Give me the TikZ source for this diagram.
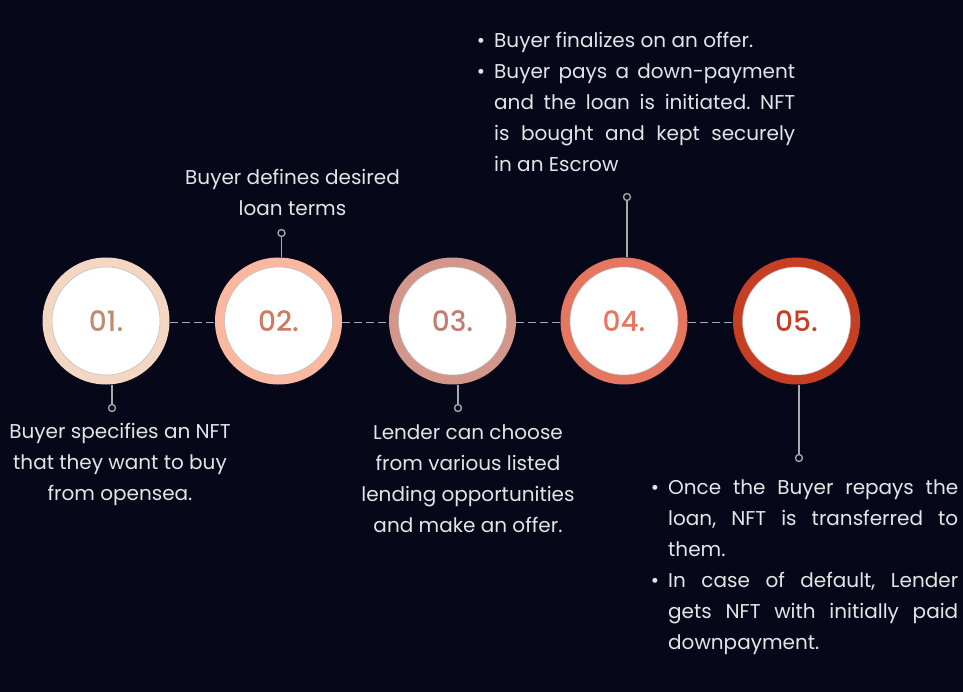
\documentclass[tikz,border=0pt]{standalone}
\usepackage{fontspec}
\setmainfont{Poppins}
\newfontfamily\numfont{Poppins}[UprightFont=* Medium]
\usetikzlibrary{positioning}
\setlength{\parindent}{0pt}
\frenchspacing

\definecolor{night}{HTML}{06081A}
\definecolor{paper}{HTML}{E4E4E6}
\definecolor{wire}{HTML}{A9A9AD}
\definecolor{ringA}{HTML}{F4D7C3}
\definecolor{ringB}{HTML}{FBB8A1}
\definecolor{ringC}{HTML}{D3968A}
\definecolor{ringD}{HTML}{E5765F}
\definecolor{ringE}{HTML}{C63F22}
\definecolor{numA}{HTML}{C08A70}
\definecolor{numB}{HTML}{CC7A60}
\definecolor{numC}{HTML}{C17C6F}

\newcommand{\dotitem}{\leavevmode\llap{\textbullet\hspace{9pt}}}

\begin{document}
\begin{tikzpicture}[x=1pt, y=-1pt,
    ring/.style={circle, inner sep=0pt, minimum size=127pt},
    face/.style={circle, fill=white, draw=gray!55, line width=0.5pt, inner sep=0pt,
                 minimum size=108pt, font=\numfont\fontsize{28}{28}\selectfont},
    pin/.style={circle, draw=wire, fill=night, line width=1.3pt, inner sep=0pt, minimum size=7pt},
    stem/.style={draw=wire, line width=1.4pt},
    link/.style={draw=wire, line width=1.6pt, dash pattern=on 8pt off 4pt},
    note/.style={text=paper, inner sep=0pt, font=\fontsize{20}{31}\selectfont}]

    % Background
    \fill[night] (0,0) rectangle (963,692);
    \useasboundingbox (0,0) rectangle (963,692);

    % Rings
    \node[ring, fill=ringA] (r1) at (106,321)   {};
    \node[ring, fill=ringB] (r2) at (278.5,321) {};
    \node[ring, fill=ringC] (r3) at (452.5,321) {};
    \node[ring, fill=ringD] (r4) at (624,321)   {};
    \node[ring, fill=ringE] (r5) at (796.5,321) {};

    % Dashed timeline
    \draw[link] ([yshift=-1.5pt]r1.east) -- ([yshift=-1.5pt]r2.west);
    \draw[link] ([yshift=-1.5pt]r2.east) -- ([yshift=-1.5pt]r3.west);
    \draw[link] ([yshift=-1.5pt]r3.east) -- ([yshift=-1.5pt]r4.west);
    \draw[link] ([yshift=-1.5pt]r4.east) -- ([yshift=-1.5pt]r5.west);

    % Step numbers
    \node[face, text=numA]  (n1) at (r1) {01.};
    \node[face, text=numB]  (n2) at (r2) {02.};
    \node[face, text=numC]  (n3) at (r3) {03.};
    \node[face, text=ringD] (n4) at (r4) {04.};
    \node[face, text=ringE] (n5) at (r5) {05.};

    % Pins
    \node[pin] (p1) at (112,408) {};
    \node[pin] (p2) at (281.5,233) {};
    \node[pin] (p3) at (458,408) {};
    \node[pin] (p4) at (627,197) {};
    \node[pin] (p5) at (799,458) {};

    \draw[stem] (p1 |- r1.south) -- (p1);
    \draw[stem] (p2 |- r2.north) -- (p2);
    \draw[stem] (p3 |- r3.south) -- (p3);
    \draw[stem] (p4 |- r4.north) -- (p4);
    \draw[stem] (p5 |- r5.south) -- (p5);

    % Notes
    \node[note, align=center, anchor=north] (t1) at (120,423)
        {Buyer specifies an NFT\\that they want to buy\\from opensea.};
    \node[note, align=center, anchor=north] (t2) at (292.5,169)
        {Buyer defines desired\\loan terms};
    \node[note, align=center, anchor=north] (t3) at (468,424)
        {Lender can choose\\from various listed\\lending opportunities\\and make an offer.};
    \node[note, align=justify, text width=301pt, anchor=north west] (t4) at (494,32)
        {\dotitem Buyer finalizes on an offer.\par
         \dotitem Buyer pays a down-payment\linebreak and the loan is initiated. NFT\linebreak
         is bought and kept securely\linebreak in an Escrow};
    \node[note, align=justify, text width=290pt, anchor=north west] (t5) at (668,479)
        {\dotitem Once the Buyer repays the\linebreak loan, NFT is transferred to\linebreak them.\par
         \dotitem In case of default, Lender\linebreak gets NFT with initially paid\linebreak downpayment.};
\end{tikzpicture}
\end{document}
